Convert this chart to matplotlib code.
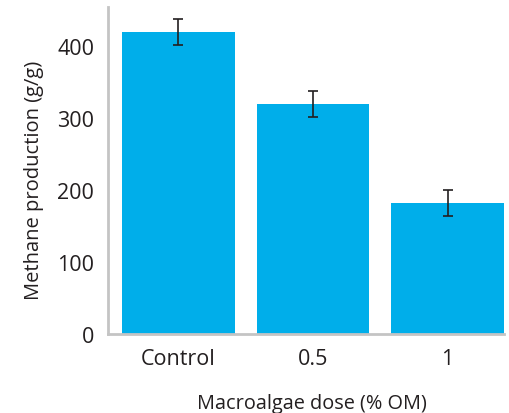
import matplotlib.pyplot as plt

plt.rcParams['font.family'] = ['Open Sans', 'DejaVu Sans']

doses = ['Control', '0.5', '1']
methane = [419, 319, 182]
errors = [18, 18, 18]

fig = plt.figure(figsize=(5.09, 4.14), dpi=100)
ax = fig.add_axes([108 / 509, 1 - 335 / 414, (504 - 108) / 509, (335 - 8) / 414])

text_color = '#231f20'
ax.bar(range(len(doses)), methane, width=0.84, color='#00aeea', zorder=2)
ax.errorbar(range(len(doses)), methane, yerr=errors, fmt='none', ecolor='#231f20',
            elinewidth=1.2, capsize=3.5, capthick=1.2, zorder=3)

ax.set_xlim(-0.524, 2.42)
ax.set_ylim(0, 454)
ax.set_yticks([0, 100, 200, 300, 400])
ax.set_xticks(range(len(doses)))
ax.set_xticklabels(doses)

for s in ['top', 'right']:
    ax.spines[s].set_visible(False)
for s in ['left', 'bottom']:
    ax.spines[s].set_color('#c4c4c4')
    ax.spines[s].set_linewidth(2)

ax.tick_params(axis='both', length=0, labelsize=15.5, colors=text_color)
ax.tick_params(axis='y', pad=10)
ax.tick_params(axis='x', pad=10)

ax.set_ylabel('Methane production (g/g)', fontsize=14.5, color=text_color)
ax.set_xlabel('Macroalgae dose (% OM)', fontsize=14.3, color=text_color)
ax.xaxis.set_label_coords(0.515, -0.18)
ax.yaxis.set_label_coords(-0.162, 0.474)

fig.savefig('out.png', dpi=100)
